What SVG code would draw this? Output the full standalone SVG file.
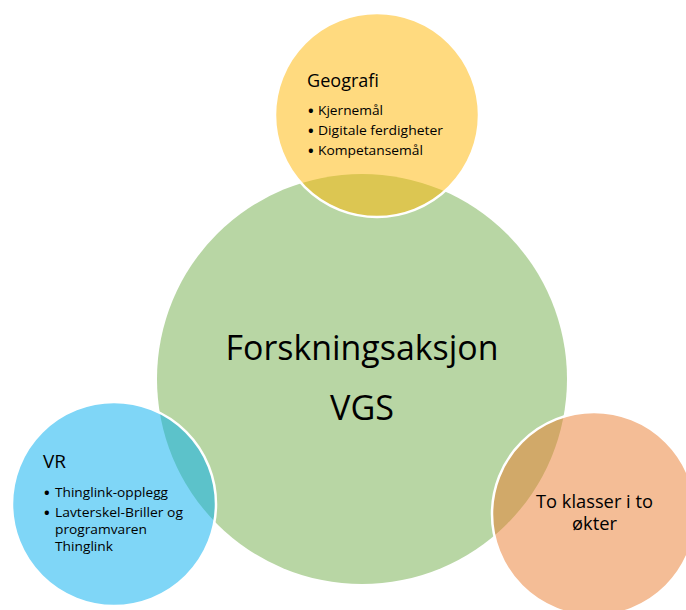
<svg xmlns="http://www.w3.org/2000/svg" width="686" height="610" viewBox="0 0 686 610">
  <style>
    text { font-family: "Open Sans", "Noto Sans", "Liberation Sans", sans-serif; fill: #000; }
    .small { stroke: #fff; stroke-width: 2.5; }
    .big { font-size: 35px; }
    .title { font-size: 18px; }
    .item { font-size: 13.5px; }
    .bullet { font-size: 15px; font-weight: bold; }
  </style>
  <rect width="686" height="610" fill="#fff"/>
  <g id="node-center">
    <circle cx="362" cy="379" r="205" fill="#B8D6A4"/>
    <text class="big" x="362" y="360" text-anchor="middle" textLength="273" lengthAdjust="spacingAndGlyphs">Forskningsaksjon</text>
    <text class="big" x="362" y="420" text-anchor="middle" textLength="64" lengthAdjust="spacingAndGlyphs">VGS</text>
  </g>
  <g id="node-geografi">
    <circle class="small" cx="377" cy="115" r="102" fill="#FFB500" fill-opacity="0.5"/>
    <text class="title" x="307" y="87" textLength="72" lengthAdjust="spacingAndGlyphs">Geografi</text>
    <text class="bullet" x="308" y="116">•</text>
    <text class="item" x="318" y="115" textLength="65" lengthAdjust="spacingAndGlyphs">Kjernemål</text>
    <text class="bullet" x="308" y="136">•</text>
    <text class="item" x="318" y="135" textLength="125" lengthAdjust="spacingAndGlyphs">Digitale ferdigheter</text>
    <text class="bullet" x="308" y="156">•</text>
    <text class="item" x="318" y="155" textLength="105" lengthAdjust="spacingAndGlyphs">Kompetansemål</text>
  </g>
  <g id="node-vr">
    <circle class="small" cx="114" cy="504" r="102" fill="#00ADEF" fill-opacity="0.5"/>
    <text class="title" x="43" y="468" textLength="23" lengthAdjust="spacingAndGlyphs">VR</text>
    <text class="bullet" x="44" y="498">•</text>
    <text class="item" x="55" y="497" textLength="113" lengthAdjust="spacingAndGlyphs">Thinglink-opplegg</text>
    <text class="bullet" x="44" y="518">•</text>
    <text class="item" x="55" y="517" textLength="128" lengthAdjust="spacingAndGlyphs">Lavterskel-Briller og</text>
    <text class="item" x="55" y="534" textLength="92" lengthAdjust="spacingAndGlyphs">programvaren</text>
    <text class="item" x="55" y="551" textLength="58" lengthAdjust="spacingAndGlyphs">Thinglink</text>
  </g>
  <g id="node-klasser">
    <circle class="small" cx="594" cy="514" r="102" fill="#E97B2D" fill-opacity="0.5"/>
    <text class="title" x="594.5" y="508" text-anchor="middle" textLength="117" lengthAdjust="spacingAndGlyphs">To klasser i to</text>
    <text class="title" x="594.5" y="530" text-anchor="middle" textLength="45" lengthAdjust="spacingAndGlyphs">økter</text>
  </g>
  <g id="connectors"/>
</svg>
